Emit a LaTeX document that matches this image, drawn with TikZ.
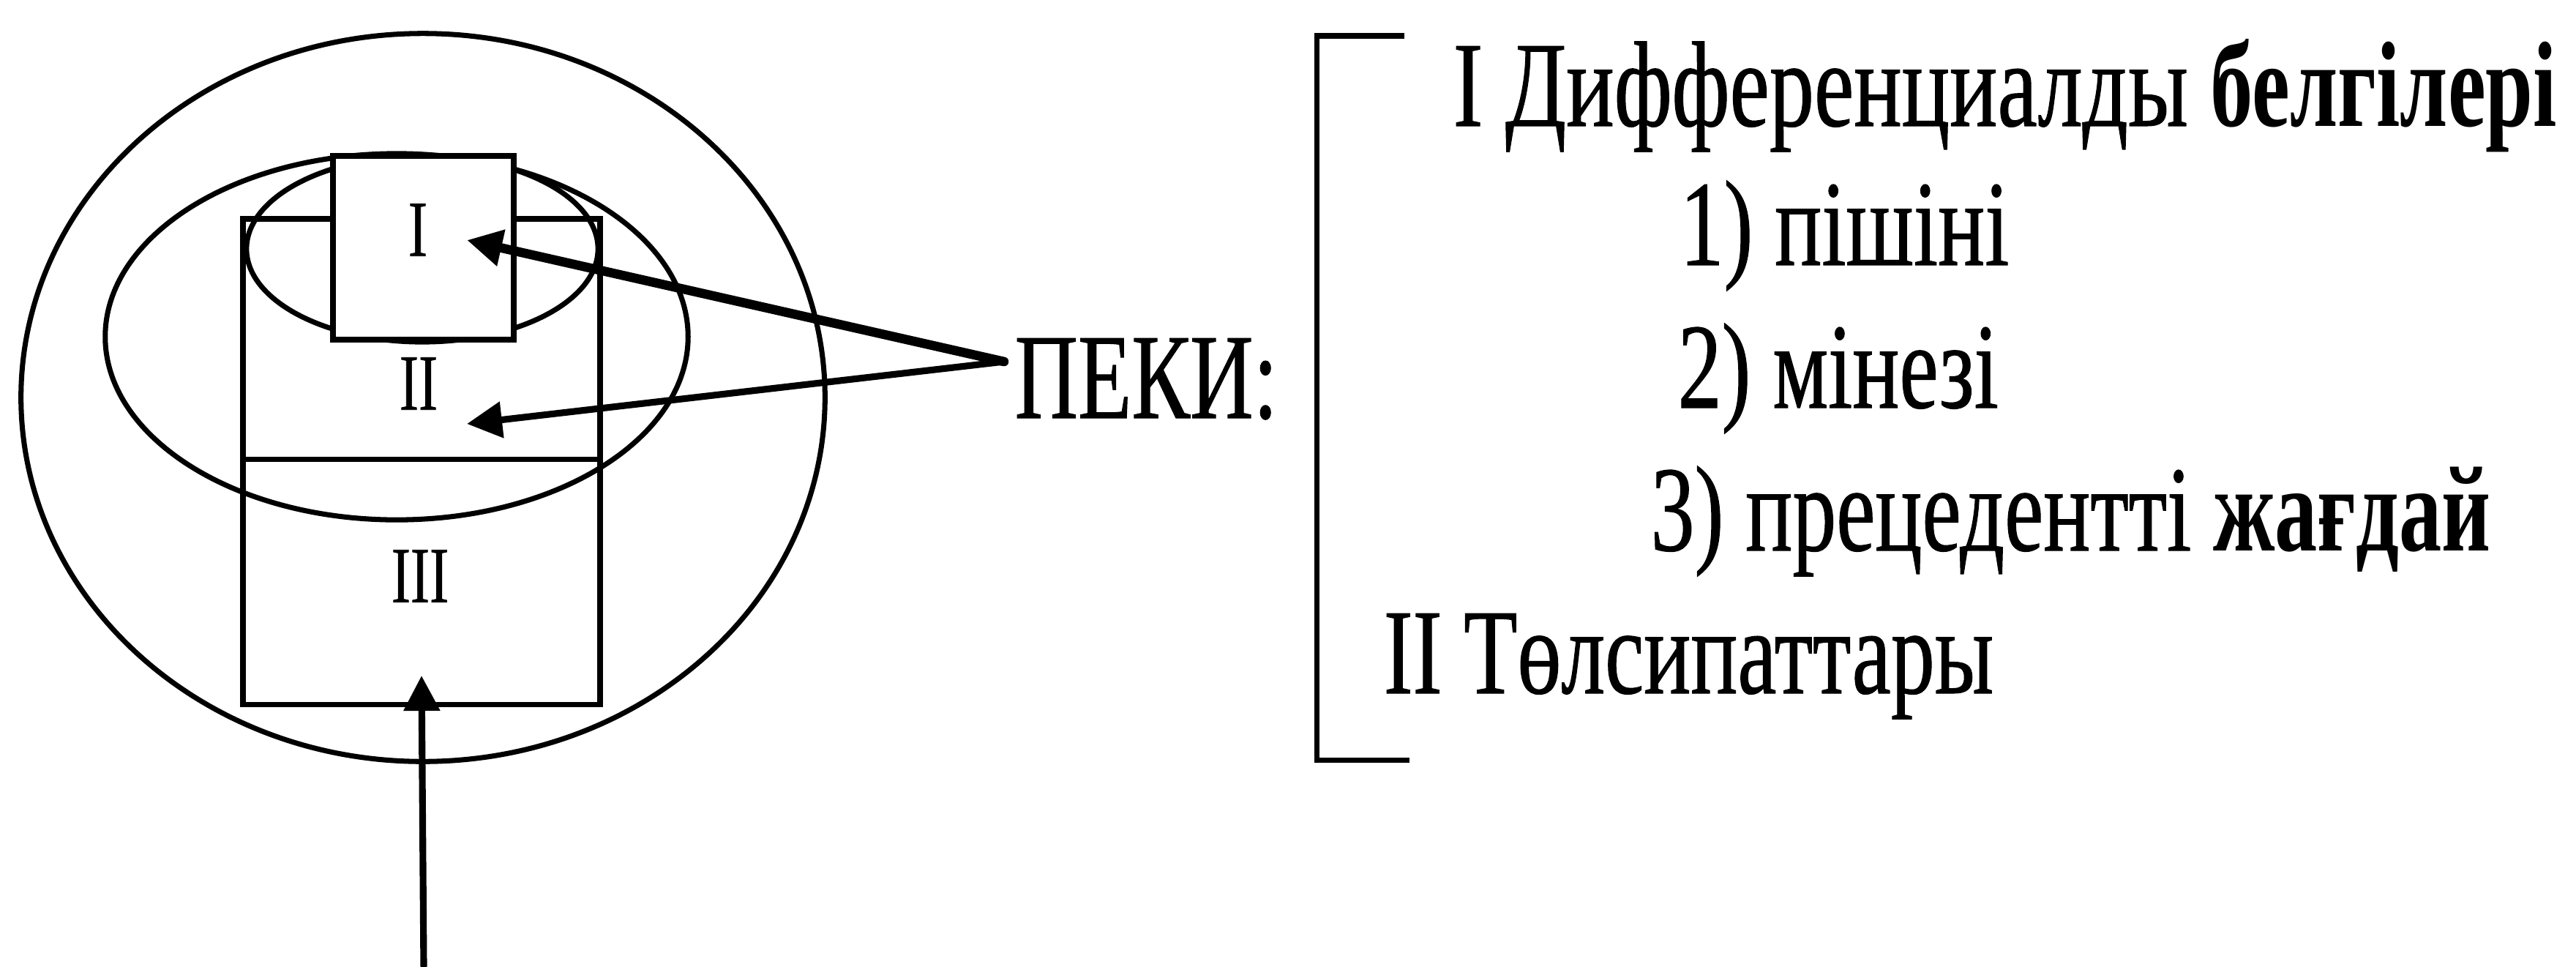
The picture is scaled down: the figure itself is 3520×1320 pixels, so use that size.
\documentclass[tikz,border=0pt]{standalone}
\usepackage{fontspec}
\setmainfont{Liberation Serif}
\newfontfamily\cf[FakeStretch=0.72,FakeBold=0.6]{Liberation Serif}
\newfontfamily\cfw[FakeStretch=0.735,FakeBold=0.6]{Liberation Serif}
\newfontfamily\cfb[FakeStretch=0.70]{Liberation Serif Bold}
\usetikzlibrary{arrows.meta}
\begin{document}
\begin{tikzpicture}[x=0.01cm,y=-0.01cm,
  shapeline/.style={line width=2pt},
  txt/.style={anchor=base west, inner sep=0pt, font=\cf\fontsize{47.3pt}{50pt}\selectfont},
  lbl/.style={inner sep=0pt, font=\cf\fontsize{31pt}{33pt}\selectfont},
  arr/.style={-{Triangle[length=0.48cm,width=0.48cm]}, line cap=round},
]
\useasboundingbox (0,0) rectangle (3520,1320);
% outer circle and middle ellipse
\draw[shapeline] (578,543) ellipse [x radius=5.49cm, y radius=4.97cm];
\draw[shapeline] (542,460) ellipse [x radius=3.98cm, y radius=2.50cm];
% small ellipse
\draw[shapeline] (577,340) ellipse [x radius=2.40cm, y radius=1.27cm];
% tall rectangle II / III
\draw[shapeline] (332,299) rectangle (820,962);
\draw[shapeline] (332,627) -- (820,627);
% box I
\draw[shapeline, fill=white] (455,213) rectangle (702,464);
% labels
\node[lbl] (lI) at (571,314) {I};
\node[lbl] (lII) at (572,524) {II};
\node[lbl] (lIII) at (574,787) {III};
% texts
\node[txt] (peki) at (1386,571) {ПЕКИ:};
\node[txt, font=\cfw\fontsize{47.3pt}{50pt}\selectfont] (t1) at (1985,172) {I Дифференциалды {\cfb белгілері}};
\node[txt] (t2) at (2295,362) {1) пішіні};
\node[txt] (t3) at (2292,557) {2) мінезі};
\node[txt] (t4) at (2255,752) {3) прецедентті {\cfb жағдай}};
\node[txt] (t5) at (1890,947) {II Төлсипаттары};
% bracket
\draw[shapeline] (1919,49) -- (1799,49) -- (1799,1038) -- (1926,1038);
% arrows
\coordinate (src) at (1372,494);
\coordinate (tipI) at (638,328);
\coordinate (tipII) at (638,579);
\coordinate (bot) at (579,1320);
\coordinate (tipIII) at (576,923);
\draw[arr, line width=3.6pt] (src) -- (tipI);
\draw[arr, line width=2.6pt] (src) -- (tipII);
\draw[arr, line width=2.6pt] (bot) -- (tipIII);
\end{tikzpicture}
\end{document}
